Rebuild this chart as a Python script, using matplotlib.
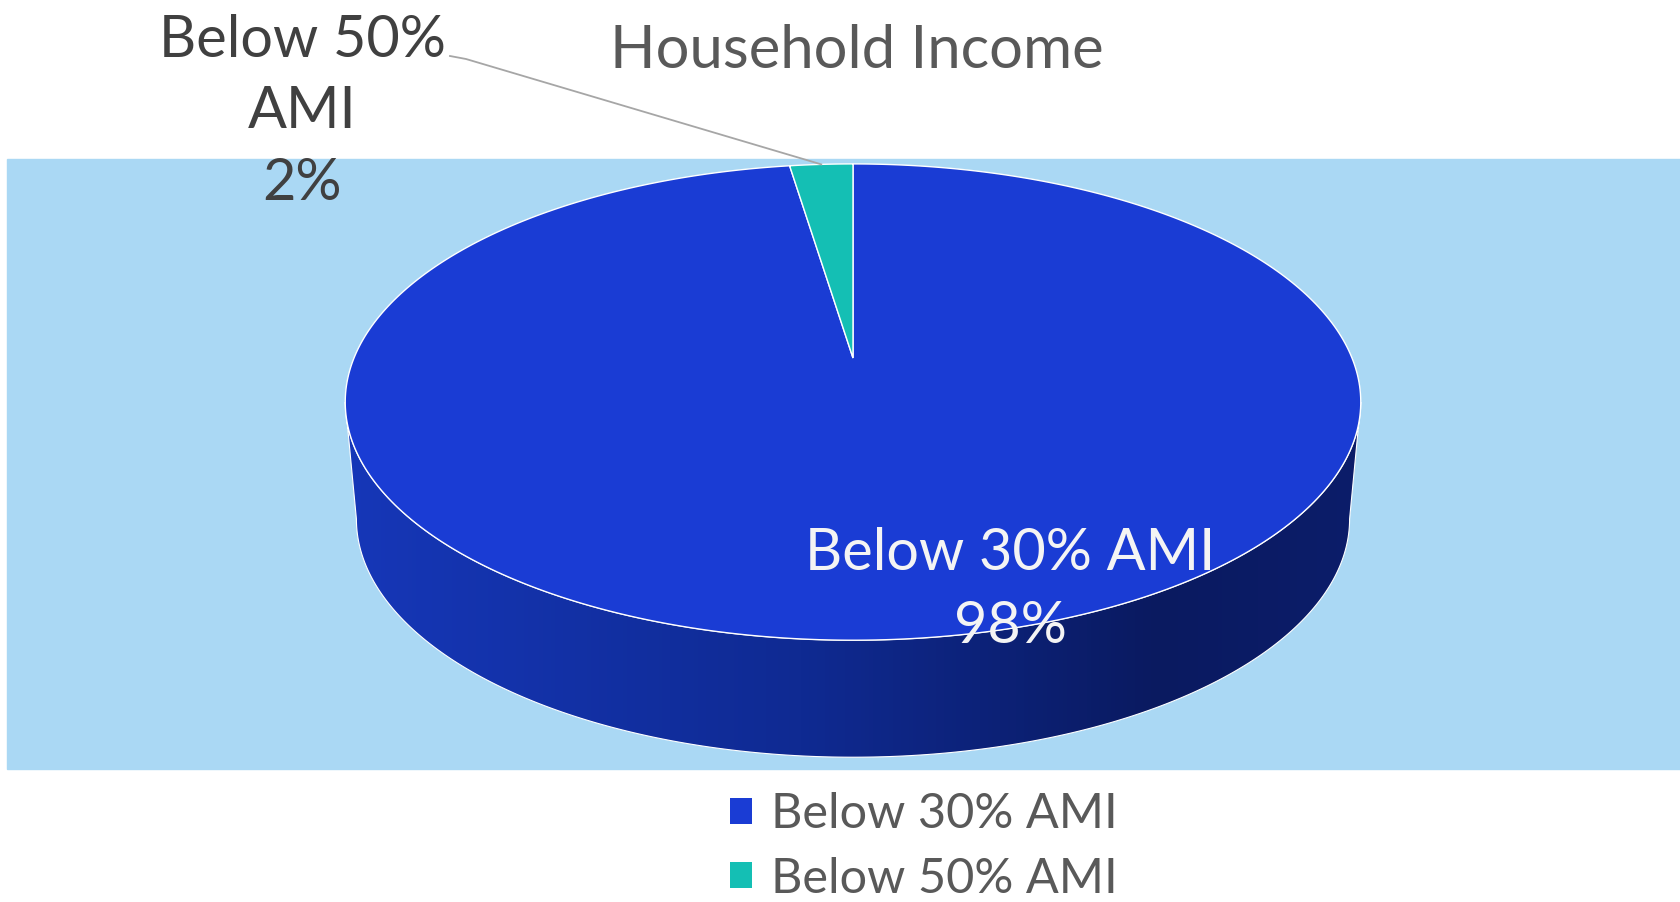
import numpy as np
import matplotlib.pyplot as plt
from matplotlib.patches import Polygon, Rectangle, Patch
from matplotlib.colors import LinearSegmentedColormap

plt.rcParams['font.family'] = ['Lato', 'DejaVu Sans']

title = "Household Income"
categories = ["Below 30% AMI", "Below 50% AMI"]
shares = [97.6, 2.4]
colors = ["#1a3cd4", "#14bfb4"]

W, H = 1681, 902
fig = plt.figure(figsize=(W / 100, H / 100), dpi=100)
ax = fig.add_axes([0, 0, 1, 1])
ax.axis('off')

# plot area background
ax.add_patch(Rectangle((7, 159), W - 7, 610, color="#aad8f4", zorder=0))

# pie drawn with a simple perspective projection of a disc
cx, cy = 853, 358
A, B, k = 499, 230, 0.185
depth = 117
shrink = 0.978


def proj(t, sx=1.0, dy=0.0):
    u, v = np.cos(t), np.sin(t)
    d = 1 + k * v
    return cx + sx * A * u / d, cy + dy - B * v / d


# side (front half), gradient fill
t_side = np.linspace(np.pi + np.arcsin(k), 2 * np.pi - np.arcsin(k), 300)
xt, yt = proj(t_side)
xb, yb = proj(t_side, sx=shrink, dy=depth)
side_pts = np.column_stack([np.r_[xt, xb[::-1]], np.r_[yt, yb[::-1]]])
side = Polygon(side_pts, closed=True, facecolor="none", edgecolor="white", lw=0.8, zorder=2)
ax.add_patch(side)
side_cmap = LinearSegmentedColormap.from_list(
    "side", [(0, "#1637b8"), (0.45, "#0f2a92"), (0.8, "#0a1a60"), (1, "#0c1d6a")])
grad = np.linspace(0, 1, 256).reshape(1, -1)
img = ax.imshow(grad, cmap=side_cmap, aspect='auto', zorder=1,
                extent=(xt.min(), xt.max(), yb.max() + 2, yt.min() - 2))
img.set_clip_path(side)

# top face wedges, clockwise from 12 o'clock
cum = np.cumsum([0] + shares)
total = cum[-1]
for i, (s, c) in enumerate(zip(shares, colors)):
    a0 = np.deg2rad(90 - cum[i] / total * 360)
    a1 = np.deg2rad(90 - cum[i + 1] / total * 360)
    tt = np.linspace(a0, a1, 400)
    xs, ys = proj(tt)
    pts = np.column_stack([np.r_[cx, xs], np.r_[cy, ys]])
    ax.add_patch(Polygon(pts, closed=True, facecolor=c, edgecolor="white", lw=1.0, zorder=3))

# labels
pct = [f"{round(s)}%" for s in shares]
ax.text(1010, 590, f"{categories[0]}\n{pct[0]}", ha='center', va='center',
        fontsize=41.5, color="#f4f4f4", linespacing=1.45, zorder=5)
ax.text(302, 112, "Below 50%\nAMI\n" + pct[1], ha='center', va='center',
        fontsize=41.5, color="#404040", linespacing=1.42, zorder=5)

# leader line to the small slice
mid = np.deg2rad(90 - (cum[1] + cum[2]) / 2 / total * 360)
mx, my = proj(mid)
ax.plot([450, 466, mx], [56, 59, my], color="#a6a6a6", lw=1.3, zorder=4)

ax.text(857, 51, title, ha='center', va='center', fontsize=43, color="#595959")

handles = [Patch(facecolor=c, edgecolor='none') for c in colors]
ax.legend(handles, categories, loc='center', bbox_to_anchor=(0.5495, 0.0615),
          frameon=False, fontsize=35, labelcolor="#595959", handlelength=0.45,
          handleheight=0.45, handletextpad=0.4, labelspacing=0.42, borderpad=0)

ax.set_xlim(0, W)
ax.set_ylim(H, 0)
fig.savefig("out.png", dpi=100)
